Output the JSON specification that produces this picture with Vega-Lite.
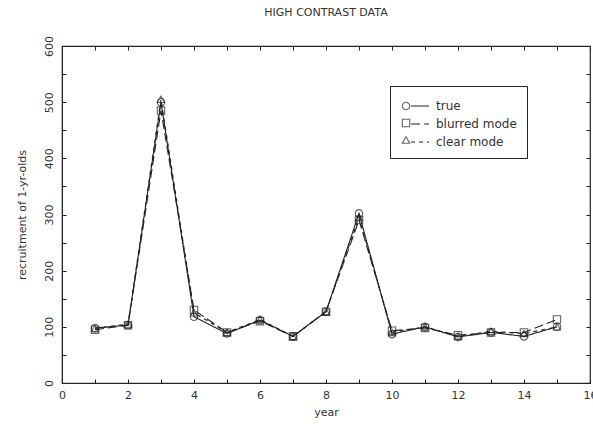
{
  "$schema": "https://vega.github.io/schema/vega-lite/v6.json",
  "width": 528,
  "height": 337,
  "autosize": "none",
  "padding": {"left": 62, "top": 46, "right": 3, "bottom": 47},
  "background": "white",
  "title": {"text": "HIGH CONTRAST DATA", "font": "DejaVu Sans", "fontSize": 11, "fontWeight": "normal", "color": "#333", "offset": 18, "anchor": "middle"},
  "config": {
    "view": {"stroke": "#222", "strokeWidth": 1.2},
    "axis": {"grid": false, "domainColor": "#222", "tickColor": "#222", "labelFont": "DejaVu Sans", "titleFont": "DejaVu Sans", "labelColor": "#333", "titleColor": "#333", "labelFontSize": 11, "titleFontSize": 11, "titleFontWeight": "normal"},
    "axisLeft": {"labelAngle": 270}
  },
  "data": {"values": [
    {"year": 1, "series": "true", "value": 98},
    {"year": 2, "series": "true", "value": 103},
    {"year": 3, "series": "true", "value": 500},
    {"year": 4, "series": "true", "value": 118},
    {"year": 5, "series": "true", "value": 88},
    {"year": 6, "series": "true", "value": 112},
    {"year": 7, "series": "true", "value": 83},
    {"year": 8, "series": "true", "value": 127},
    {"year": 9, "series": "true", "value": 302},
    {"year": 10, "series": "true", "value": 87},
    {"year": 11, "series": "true", "value": 100},
    {"year": 12, "series": "true", "value": 82},
    {"year": 13, "series": "true", "value": 90},
    {"year": 14, "series": "true", "value": 83},
    {"year": 15, "series": "true", "value": 100},
    {"year": 1, "series": "blurred mode", "value": 95},
    {"year": 2, "series": "blurred mode", "value": 103},
    {"year": 3, "series": "blurred mode", "value": 485},
    {"year": 4, "series": "blurred mode", "value": 130},
    {"year": 5, "series": "blurred mode", "value": 90},
    {"year": 6, "series": "blurred mode", "value": 110},
    {"year": 7, "series": "blurred mode", "value": 83},
    {"year": 8, "series": "blurred mode", "value": 127},
    {"year": 9, "series": "blurred mode", "value": 290},
    {"year": 10, "series": "blurred mode", "value": 93},
    {"year": 11, "series": "blurred mode", "value": 98},
    {"year": 12, "series": "blurred mode", "value": 85},
    {"year": 13, "series": "blurred mode", "value": 90},
    {"year": 14, "series": "blurred mode", "value": 90},
    {"year": 15, "series": "blurred mode", "value": 113},
    {"year": 1, "series": "clear mode", "value": 97},
    {"year": 2, "series": "clear mode", "value": 105},
    {"year": 3, "series": "clear mode", "value": 505},
    {"year": 4, "series": "clear mode", "value": 125},
    {"year": 5, "series": "clear mode", "value": 90},
    {"year": 6, "series": "clear mode", "value": 113},
    {"year": 7, "series": "clear mode", "value": 83},
    {"year": 8, "series": "clear mode", "value": 127},
    {"year": 9, "series": "clear mode", "value": 295},
    {"year": 10, "series": "clear mode", "value": 90},
    {"year": 11, "series": "clear mode", "value": 100},
    {"year": 12, "series": "clear mode", "value": 83},
    {"year": 13, "series": "clear mode", "value": 92},
    {"year": 14, "series": "clear mode", "value": 88},
    {"year": 15, "series": "clear mode", "value": 100}
  ]},
  "layer": [
    {
      "mark": {"type": "line", "color": "#222", "strokeWidth": 1.1},
      "encoding": {
        "x": {"field": "year", "type": "quantitative", "scale": {"domain": [0, 16], "nice": false}, "title": "year",
          "axis": {"orient": "bottom", "values": [0,1,2,3,4,5,6,7,8,9,10,11,12,13,14,15,16], "labelExpr": "datum.value % 2 == 0 ? datum.label : ''", "tickSize": -4, "labelPadding": 10, "titlePadding": 6, "labelFlush": false, "labelBound": false}},
        "y": {"field": "value", "type": "quantitative", "scale": {"domain": [0, 600], "nice": false}, "title": "recruitment of 1-yr-olds",
          "axis": {"orient": "left", "values": [0,50,100,150,200,250,300,350,400,450,500,550,600], "labelExpr": "datum.value % 100 == 0 ? datum.label : ''", "tickSize": -4, "labelAngle": 270, "labelAlign": "center", "labelBaseline": "bottom", "labelPadding": 12, "titlePadding": 16,
            "encode": {"labels": {"angle": {"value": 270}, "align": {"value": "center"}, "baseline": {"value": "bottom"}}}}},
        "detail": {"field": "series"},
        "strokeDash": {"field": "series", "type": "nominal", "scale": {"domain": ["true", "blurred mode", "clear mode"], "range": [[1, 0], [9, 4], [4, 4]]},
          "legend": {"title": null, "orient": "none", "legendX": 328, "legendY": 40, "strokeColor": "#222", "padding": 10, "labelFont": "DejaVu Sans", "labelFontSize": 12, "labelColor": "#333", "symbolSize": 324, "symbolStrokeColor": "#222", "symbolStrokeWidth": 1.1, "rowPadding": 2, "labelOffset": 6, "symbolOffset": 10, "symbolType": "stroke"}}
      }
    },
    {
      "mark": {"type": "point", "filled": false, "color": "#222", "size": 55, "strokeWidth": 1.1},
      "encoding": {
        "x": {"field": "year", "type": "quantitative", "axis": {"orient": "top", "values": [0,1,2,3,4,5,6,7,8,9,10,11,12,13,14,15,16], "labels": false, "tickSize": -4, "title": null, "domain": false}},
        "y": {"field": "value", "type": "quantitative", "axis": {"orient": "right", "values": [0,50,100,150,200,250,300,350,400,450,500,550,600], "labels": false, "tickSize": -4, "title": null, "domain": false}},
        "shape": {"field": "series", "type": "nominal", "scale": {"domain": ["clear mode", "true", "blurred mode"], "range": ["triangle-up", "circle", "square"]},
          "legend": {"title": null, "orient": "none", "legendX": 338, "legendY": 54, "padding": 0, "values": ["true", "blurred mode", "clear mode"], "labelExpr": "''", "labelFontSize": 12, "symbolSize": 55, "rowPadding": 5, "symbolStrokeColor": "#222", "symbolStrokeWidth": 1.1, "symbolFillColor": "transparent"}}
      }
    }
  ],
  "resolve": {"axis": {"x": "independent", "y": "independent"}}
}
